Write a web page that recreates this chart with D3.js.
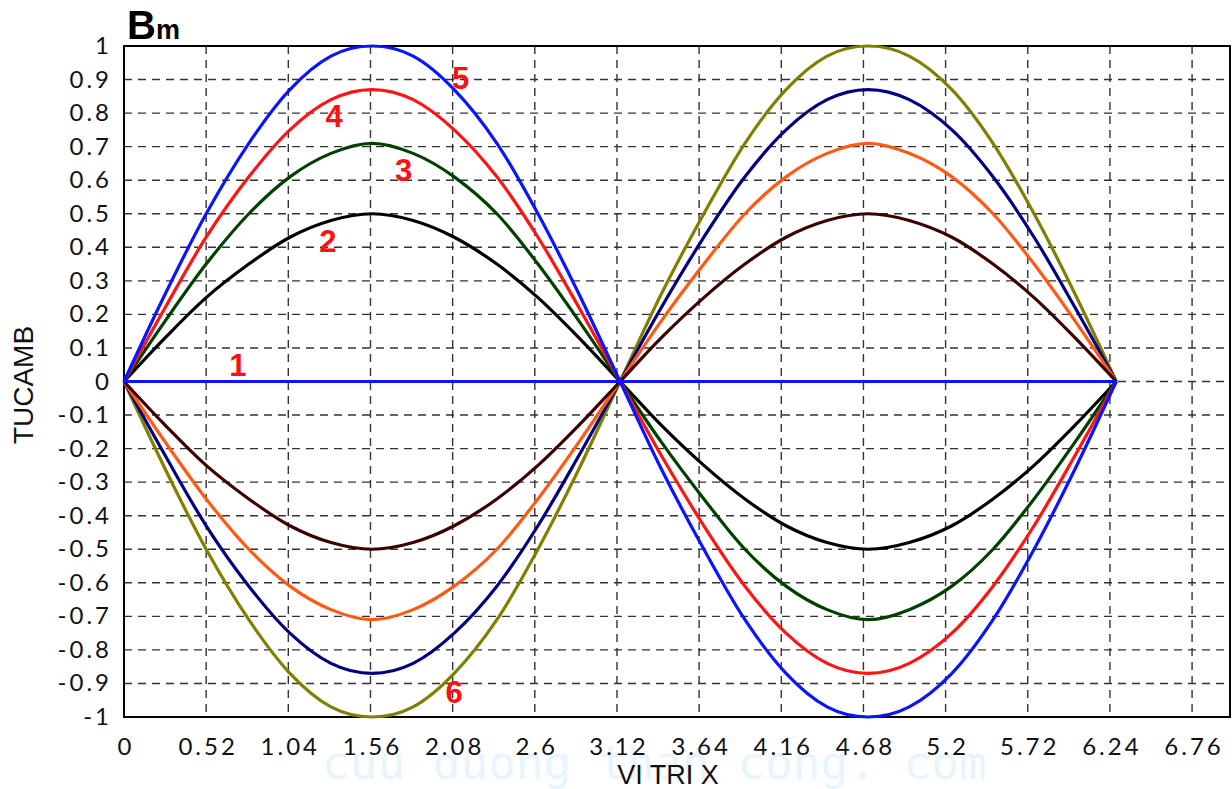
<!DOCTYPE html>
<html>
<head>
<meta charset="utf-8">
<script src="https://cdn.jsdelivr.net/npm/d3@7"></script>
<style>
  html, body { margin: 0; padding: 0; background: #fff; }
  svg { display: block; }
  .tick-label { font-family: Lato, 'Open Sans', sans-serif; font-size: 24px; fill: #111; letter-spacing: 3px; }
  .curve-num { font-family: 'Liberation Sans', Arial, sans-serif; font-weight: bold; font-size: 31px; fill: #ff1010; }
</style>
</head>
<body>
<svg id="chart" width="1232" height="789"></svg>
<script>
// x positions along the beam
const xs = [0, 0.26, 0.52, 0.79, 1.05, 1.31, 1.57, 1.83, 2.09, 2.36, 2.62, 2.88, 3.14,
            3.40, 3.67, 3.93, 4.19, 4.45, 4.71, 4.97, 5.24, 5.50, 5.76, 6.02, 6.28]

// curve values
const curve1 = [0, 0, 0, 0, 0, 0, 0, 0, 0, 0, 0, 0, 0, 0, 0, 0, 0, 0, 0, 0, 0, 0, 0, 0, 0]
const curve2 = [0, 0.13, 0.25, 0.35, 0.43, 0.48, 0.5, 0.48, 0.43, 0.35, 0.25, 0.13, 0,
                -0.13, -0.25, -0.35, -0.43, -0.48, -0.5, -0.48, -0.43, -0.35, -0.25, -0.13, 0]
const curve3 = [0, 0.18, 0.35, 0.5, 0.61, 0.68, 0.71, 0.68, 0.61, 0.5, 0.35, 0.18, 0,
                -0.18, -0.35, -0.5, -0.61, -0.68, -0.71, -0.68, -0.61, -0.5, -0.35, -0.18, 0]
const curve4 = [0, 0.22, 0.43, 0.61, 0.75, 0.84, 0.87, 0.84, 0.75, 0.61, 0.43, 0.22, 0,
                -0.22, -0.43, -0.61, -0.75, -0.84, -0.87, -0.84, -0.75, -0.61, -0.43, -0.22, 0]
const curve5 = [0, 0.26, 0.5, 0.71, 0.87, 0.97, 1, 0.97, 0.87, 0.71, 0.5, 0.26, 0,
                -0.26, -0.5, -0.71, -0.87, -0.97, -1, -0.97, -0.87, -0.71, -0.5, -0.26, 0]
const curve6 = [0, -0.26, -0.5, -0.71, -0.87, -0.97, -1, -0.97, -0.87, -0.71, -0.5, -0.26, 0,
                0.26, 0.5, 0.71, 0.87, 0.97, 1, 0.97, 0.87, 0.71, 0.5, 0.26, 0]
const curve7 = [0, -0.22, -0.43, -0.61, -0.75, -0.84, -0.87, -0.84, -0.75, -0.61, -0.43, -0.22, 0,
                0.22, 0.43, 0.61, 0.75, 0.84, 0.87, 0.84, 0.75, 0.61, 0.43, 0.22, 0]
const curve8 = [0, -0.18, -0.35, -0.5, -0.61, -0.68, -0.71, -0.68, -0.61, -0.5, -0.35, -0.18, 0,
                0.18, 0.35, 0.5, 0.61, 0.68, 0.71, 0.68, 0.61, 0.5, 0.35, 0.18, 0]
const curve9 = [0, -0.13, -0.25, -0.35, -0.43, -0.48, -0.5, -0.48, -0.43, -0.35, -0.25, -0.13, 0,
                0.13, 0.25, 0.35, 0.43, 0.48, 0.5, 0.48, 0.43, 0.35, 0.25, 0.13, 0]

const series = [
  { values: curve6, color: '#808000' },
  { values: curve7, color: '#000080' },
  { values: curve8, color: '#ff5a14' },
  { values: curve9, color: '#3c0000' },
  { values: curve2, color: '#000000' },
  { values: curve3, color: '#004000' },
  { values: curve4, color: '#ff1414' },
  { values: curve5, color: '#0a14ff' },
  { values: curve1, color: '#0a14ff' }
]

const xTicks = [0, 0.52, 1.04, 1.56, 2.08, 2.6, 3.12, 3.64, 4.16, 4.68, 5.2, 5.72, 6.24, 6.76]
const yTicks = [1, 0.9, 0.8, 0.7, 0.6, 0.5, 0.4, 0.3, 0.2, 0.1, 0,
                -0.1, -0.2, -0.3, -0.4, -0.5, -0.6, -0.7, -0.8, -0.9, -1]

// curve number labels: text, x, y (data coords)
const numLabels = [
  ['1', 0.72, 0.05], ['2', 1.29, 0.42], ['3', 1.77, 0.63],
  ['4', 1.33, 0.79], ['5', 2.13, 0.905], ['6', 2.09, -0.925]
]

const svg = d3.select('#chart')
const x = d3.scaleLinear().domain([0, 7]).range([124, 1230])
const y = d3.scaleLinear().domain([-1, 1]).range([717, 46])

// watermark
svg.append('text')
  .attr('x', 322).attr('y', 779)
  .attr('font-family', "'DejaVu Sans Mono', monospace")
  .attr('font-size', 46)
  .attr('fill', '#e8f5fc')
  .text('cuu duong than cong. com')

// grid
const grid = svg.append('g')
  .attr('stroke', '#333')
  .attr('stroke-width', 1.4)
  .attr('stroke-dasharray', '8,6')
grid.selectAll('.vg')
  .data(xTicks.slice(1))
  .enter().append('line')
  .attr('x1', d => x(d)).attr('x2', d => x(d))
  .attr('y1', y(1)).attr('y2', y(-1))
grid.selectAll('.hg')
  .data(yTicks.slice(1, -1))
  .enter().append('line')
  .attr('x1', x(0)).attr('x2', x(7))
  .attr('y1', d => y(d)).attr('y2', d => y(d))

// frame
svg.append('rect')
  .attr('x', x(0)).attr('y', y(1))
  .attr('width', x(7) - x(0)).attr('height', y(-1) - y(1))
  .attr('fill', 'none')
  .attr('stroke', '#000')
  .attr('stroke-width', 2)

// curves
const line = d3.line()
  .x((d, i) => x(xs[i]))
  .y(d => y(d))
  .curve(d3.curveCardinal)

svg.append('g')
  .selectAll('path')
  .data(series)
  .enter().append('path')
  .attr('fill', 'none')
  .attr('stroke', d => d.color)
  .attr('stroke-width', 3.2)
  .attr('stroke-linejoin', 'round')
  .attr('d', d => line(d.values))

// tick labels
svg.append('g')
  .selectAll('text')
  .data(xTicks)
  .enter().append('text')
  .attr('class', 'tick-label')
  .attr('x', d => x(d) + 2)
  .attr('y', 755)
  .attr('text-anchor', 'middle')
  .text(d => String(d))

svg.append('g')
  .selectAll('text')
  .data(yTicks)
  .enter().append('text')
  .attr('class', 'tick-label')
  .attr('x', 112)
  .attr('y', d => y(d) + 8)
  .attr('text-anchor', 'end')
  .text(d => String(d))

// curve numbers
svg.append('g')
  .selectAll('text')
  .data(numLabels)
  .enter().append('text')
  .attr('class', 'curve-num')
  .attr('x', d => x(d[1]))
  .attr('y', d => y(d[2]) + 11)
  .attr('text-anchor', 'middle')
  .text(d => d[0])

// axis titles
svg.append('text')
  .attr('transform', 'translate(33,385) rotate(-90)')
  .attr('text-anchor', 'middle')
  .attr('font-family', "'Liberation Sans', Arial, sans-serif")
  .attr('font-size', 28)
  .attr('fill', '#111')
  .text('TUCAMB')

svg.append('text')
  .attr('x', 668).attr('y', 784)
  .attr('text-anchor', 'middle')
  .attr('font-family', "'Liberation Sans', Arial, sans-serif")
  .attr('font-size', 27)
  .attr('fill', '#111')
  .text('VI TRI X')

const title = svg.append('text')
  .attr('x', 127).attr('y', 39)
  .attr('font-family', "'Liberation Sans', Arial, sans-serif")
  .attr('font-weight', 'bold')
  .attr('fill', '#000')
title.append('tspan').attr('font-size', 40).text('B')
title.append('tspan').attr('font-size', 27).text('m')
</script>
</body>
</html>
